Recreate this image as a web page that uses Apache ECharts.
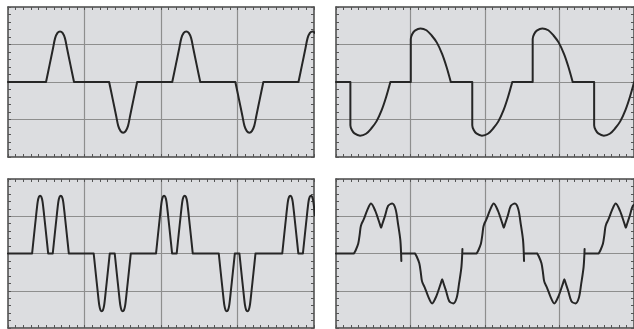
<!DOCTYPE html>
<html><head><meta charset="utf-8">
<script src="https://cdn.jsdelivr.net/npm/echarts@6/dist/echarts.min.js"></script>
<style>html,body{margin:0;padding:0;background:#fff;}#c{width:634px;height:329px;}</style>
</head><body><div id="c"></div>
<script>
// axis ranges in screen divisions
const xRange = [0, 4];
const yRange = [-2, 2];

// Each wave is a list of trace segments ([x, y] in divisions)
// Panel 1: single pulses
const wave1 = [
[[0,0],[0.497,0]],
[[0.497,0],[0.543,0.45],[0.5885,0.90],[0.616,1.17],[0.647,1.31],[0.68,1.35],[0.713,1.31],[0.744,1.17],[0.7715,0.90],[0.817,0.45],[0.863,0]],
[[0.863,0],[1.322,0]],
[[1.322,0],[1.368,-0.45],[1.4135,-0.90],[1.441,-1.17],[1.472,-1.31],[1.505,-1.35],[1.538,-1.31],[1.569,-1.17],[1.5965,-0.90],[1.642,-0.45],[1.688,0]],
[[1.688,0],[2.147,0]],
[[2.147,0],[2.193,0.45],[2.2385,0.90],[2.266,1.17],[2.297,1.31],[2.33,1.35],[2.363,1.31],[2.394,1.17],[2.4215,0.90],[2.467,0.45],[2.513,0]],
[[2.513,0],[2.972,0]],
[[2.972,0],[3.018,-0.45],[3.0635,-0.90],[3.091,-1.17],[3.122,-1.31],[3.155,-1.35],[3.188,-1.31],[3.219,-1.17],[3.2465,-0.90],[3.292,-0.45],[3.338,0]],
[[3.338,0],[3.797,0]],
[[3.797,0],[3.843,0.45],[3.8885,0.90],[3.916,1.17],[3.947,1.31],[3.98,1.35],[4.013,1.31]]];

// Panel 2: phase-cut half waves
const wave2 = [
[[0,0],[0.193,0]],
[[0.193,0],[0.193,-1.15],[0.213,-1.28],[0.248,-1.37],[0.323,-1.43],[0.403,-1.38],[0.473,-1.24],[0.543,-1.05],[0.613,-0.75],[0.673,-0.40],[0.73,0]],
[[0.73,0],[1.004,0]],
[[1.004,0],[1.004,1.15],[1.024,1.28],[1.059,1.37],[1.134,1.43],[1.214,1.38],[1.284,1.24],[1.354,1.05],[1.424,0.75],[1.484,0.40],[1.541,0]],
[[1.541,0],[1.829,0]],
[[1.829,0],[1.829,-1.15],[1.849,-1.28],[1.884,-1.37],[1.959,-1.43],[2.039,-1.38],[2.109,-1.24],[2.179,-1.05],[2.249,-0.75],[2.309,-0.40],[2.366,0]],
[[2.366,0],[2.64,0]],
[[2.64,0],[2.64,1.15],[2.66,1.28],[2.695,1.37],[2.77,1.43],[2.85,1.38],[2.92,1.24],[2.99,1.05],[3.06,0.75],[3.12,0.40],[3.177,0]],
[[3.177,0],[3.465,0]],
[[3.465,0],[3.465,-1.15],[3.485,-1.28],[3.52,-1.37],[3.595,-1.43],[3.675,-1.38],[3.745,-1.24],[3.815,-1.05],[3.885,-0.75],[3.945,-0.40],[4.002,0]]];

// Panel 3: double pulses
const wave3 = [
[[0,0],[0.315,0]],
[[0.315,0],[0.341,0.51],[0.3675,1.02],[0.3885,1.395],[0.404,1.52],[0.42,1.55],[0.436,1.52],[0.4515,1.395],[0.4725,1.02],[0.499,0.51],[0.525,0]],
[[0.525,0],[0.585,0]],
[[0.585,0],[0.611,0.51],[0.6375,1.02],[0.6585,1.395],[0.674,1.52],[0.69,1.55],[0.706,1.52],[0.7215,1.395],[0.7425,1.02],[0.769,0.51],[0.795,0]],
[[0.795,0],[1.12,0]],
[[1.12,0],[1.146,-0.51],[1.1725,-1.02],[1.1935,-1.395],[1.209,-1.52],[1.225,-1.55],[1.241,-1.52],[1.2565,-1.395],[1.2775,-1.02],[1.304,-0.51],[1.33,0]],
[[1.33,0],[1.395,0]],
[[1.395,0],[1.421,-0.51],[1.4475,-1.02],[1.4685,-1.395],[1.484,-1.52],[1.5,-1.55],[1.516,-1.52],[1.5315,-1.395],[1.5525,-1.02],[1.579,-0.51],[1.605,0]],
[[1.605,0],[1.935,0]],
[[1.935,0],[1.961,0.51],[1.9875,1.02],[2.0085,1.395],[2.024,1.52],[2.04,1.55],[2.056,1.52],[2.0715,1.395],[2.0925,1.02],[2.119,0.51],[2.145,0]],
[[2.145,0],[2.205,0]],
[[2.205,0],[2.231,0.51],[2.2575,1.02],[2.2785,1.395],[2.294,1.52],[2.31,1.55],[2.326,1.52],[2.3415,1.395],[2.3625,1.02],[2.389,0.51],[2.415,0]],
[[2.415,0],[2.755,0]],
[[2.755,0],[2.781,-0.51],[2.8075,-1.02],[2.8285,-1.395],[2.844,-1.52],[2.86,-1.55],[2.876,-1.52],[2.8915,-1.395],[2.9125,-1.02],[2.939,-0.51],[2.965,0]],
[[2.965,0],[3.025,0]],
[[3.025,0],[3.051,-0.51],[3.0775,-1.02],[3.0985,-1.395],[3.114,-1.52],[3.13,-1.55],[3.146,-1.52],[3.1615,-1.395],[3.1825,-1.02],[3.209,-0.51],[3.235,0]],
[[3.235,0],[3.585,0]],
[[3.585,0],[3.611,0.51],[3.6375,1.02],[3.6585,1.395],[3.674,1.52],[3.69,1.55],[3.706,1.52],[3.7215,1.395],[3.7425,1.02],[3.769,0.51],[3.795,0]],
[[3.795,0],[3.855,0]],
[[3.855,0],[3.881,0.51],[3.9075,1.02],[3.9285,1.395],[3.944,1.52],[3.96,1.55],[3.976,1.52],[3.9915,1.395],[4.0125,1.02]]];

// Panel 4: double-humped lobes
const wave4 = [
[[0,0],[0.24,0]],
[[0.24,0],[0.263,0.08],[0.298,0.26],[0.316,0.48],[0.33,0.70],[0.342,0.79],[0.373,0.92],[0.417,1.15],[0.47,1.34],[0.526,1.15],[0.59,0.78],[0.605,0.69],[0.62,0.78],[0.658,1.01],[0.70,1.28],[0.754,1.34],[0.80,1.19],[0.833,0.79],[0.864,0.35],[0.877,-0.2]],
[[0.877,0],[1.06,0]],
[[1.06,0],[1.083,-0.08],[1.118,-0.26],[1.136,-0.48],[1.15,-0.70],[1.162,-0.79],[1.193,-0.92],[1.237,-1.15],[1.29,-1.34],[1.346,-1.15],[1.41,-0.78],[1.425,-0.69],[1.44,-0.78],[1.478,-1.01],[1.52,-1.28],[1.574,-1.34],[1.62,-1.19],[1.653,-0.79],[1.684,-0.35],[1.697,0.12]],
[[1.697,0],[1.887,0]],
[[1.887,0],[1.91,0.08],[1.945,0.26],[1.963,0.48],[1.977,0.70],[1.989,0.79],[2.02,0.92],[2.064,1.15],[2.117,1.34],[2.173,1.15],[2.237,0.78],[2.252,0.69],[2.267,0.78],[2.305,1.01],[2.347,1.28],[2.401,1.34],[2.447,1.19],[2.48,0.79],[2.511,0.35],[2.524,-0.2]],
[[2.524,0],[2.70,0]],
[[2.70,0],[2.723,-0.08],[2.758,-0.26],[2.776,-0.48],[2.79,-0.70],[2.802,-0.79],[2.833,-0.92],[2.877,-1.15],[2.93,-1.34],[2.986,-1.15],[3.05,-0.78],[3.065,-0.69],[3.08,-0.78],[3.118,-1.01],[3.16,-1.28],[3.214,-1.34],[3.26,-1.19],[3.293,-0.79],[3.324,-0.35],[3.337,0.12]],
[[3.337,0],[3.525,0]],
[[3.525,0],[3.548,0.08],[3.583,0.26],[3.601,0.48],[3.615,0.70],[3.627,0.79],[3.658,0.92],[3.702,1.15],[3.755,1.34],[3.811,1.15],[3.875,0.78],[3.89,0.69],[3.905,0.78],[3.943,1.01],[3.985,1.28],[4.039,1.34]]];

const waves = [wave1, wave2, wave3, wave4];
const layout = [
  {left: 8, top: 7, width: 306, height: 150},
  {left: 336, top: 7, width: 305, height: 150},
  {left: 8, top: 179, width: 306, height: 149},
  {left: 336, top: 179, width: 305, height: 149}
];

// join trace segments with pen lifts ('-' = gap)
function joinSegments(segs) {
  const out = [];
  segs.forEach((s, i) => {
    if (i) out.push([s[0][0], '-']);
    s.forEach(p => out.push(p));
  });
  return out;
}

const frameColor = '#474747';
const tickStyle = {color: '#555', width: 1};
const gridLine = {color: '#8e8e8e', width: 1.2};

const grids = [], xAxes = [], yAxes = [], series = [];
layout.forEach((g, i) => {
  grids.push(Object.assign({show: true, backgroundColor: '#dcdde0', borderWidth: 0, containLabel: false}, g));
  ['bottom', 'top'].forEach((pos, k) => {
    xAxes.push({
      gridIndex: i, type: 'value', position: pos, min: xRange[0], max: xRange[1], interval: 1,
      axisLine: {show: true, onZero: false, lineStyle: {color: frameColor, width: 1.5}},
      axisLabel: {show: false},
      axisTick: {show: true, inside: true, length: 3, lineStyle: tickStyle},
      minorTick: {show: true, splitNumber: 10, length: 3, lineStyle: tickStyle},
      splitLine: {show: k === 0, showMinLine: false, showMaxLine: false, lineStyle: gridLine}
    });
  });
  ['left', 'right'].forEach((pos, k) => {
    yAxes.push({
      gridIndex: i, type: 'value', position: pos, min: yRange[0], max: yRange[1], interval: 1,
      axisLine: {show: true, onZero: false, lineStyle: {color: frameColor, width: 1.5}},
      axisLabel: {show: false},
      axisTick: {show: true, inside: true, length: 3, lineStyle: tickStyle},
      minorTick: {show: true, splitNumber: 5, length: 3, lineStyle: tickStyle},
      splitLine: {show: k === 0, showMinLine: false, showMaxLine: false, lineStyle: gridLine}
    });
  });
  series.push({
    type: 'line', xAxisIndex: i * 2, yAxisIndex: i * 2, data: joinSegments(waves[i]),
    symbol: 'none', smooth: 0.3, clip: true, z: 5, connectNulls: false,
    lineStyle: {color: '#262626', width: 2, cap: 'round', join: 'round'}
  });
});

const chart = echarts.init(document.getElementById('c'));
chart.setOption({animation: false, grid: grids, xAxis: xAxes, yAxis: yAxes, series: series});
</script>
</body></html>
